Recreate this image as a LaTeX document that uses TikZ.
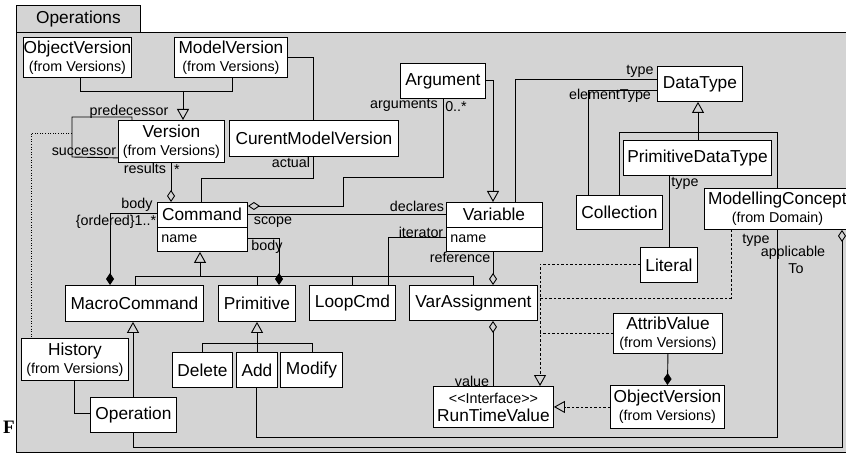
\documentclass[tikz,border=0pt]{standalone}
\usepackage{fontspec}
\setmainfont{Liberation Sans}
\newfontfamily\figserif{Liberation Serif}
\usetikzlibrary{arrows.meta}
\newcommand\clsfont{\fontsize{17.3}{18}\selectfont}
\newcommand\lblfont{\fontsize{14.3}{15}\selectfont}
\definecolor{bg}{gray}{0.83}
\begin{document}
\begin{tikzpicture}[x=1pt,y=-1pt,line width=0.9pt,
  box/.style={draw,fill=white,inner sep=0pt,anchor=north west,align=center,font=\clsfont},
  lbl/.style={font=\lblfont,inner sep=0pt},
  gen/.style={-{Triangle[open,length=11pt,width=12pt]}},
  real/.style={-{Triangle[open,length=11pt,width=12pt]},dash pattern=on 2.5pt off 2pt},
  dsh/.style={dash pattern=on 2.5pt off 2pt},
  comp/.style={-{Diamond[length=12pt,width=8pt]}},
  agg/.style={-{Diamond[open,length=12pt,width=8pt]}},
  aggs/.style={{Diamond[open,length=12pt,width=8pt]}-}]
\useasboundingbox (0,0) rectangle (846,454);
% package
\node[draw,fill=bg,anchor=north west,minimum width=124pt,minimum height=27pt,inner sep=0pt,font=\clsfont] (tab) at (16,5) {Operations};
\node[draw,fill=bg,anchor=north west,minimum width=840pt,minimum height=420pt,inner sep=0pt] (pkg) at (16,32) {};
\node[font=\figserif\fontsize{19}{20}\selectfont\bfseries,inner sep=0pt] (fig) at (9,427) {F};
% classes
\node[box,minimum width=108pt,minimum height=40pt] (ov1) at (23,37) {ObjectVersion\\{\lblfont (from Versions)}};
\node[box,minimum width=113pt,minimum height=40pt] (mv) at (174,37) {ModelVersion\\{\lblfont (from Versions)}};
\node[box,minimum width=106pt,minimum height=42pt] (ver) at (118,120) {Version\\{\lblfont (from Versions)}};
\node[box,minimum width=169pt,minimum height=36pt] (cmv) at (229,120) {CurentModelVersion};
\node[box,minimum width=85pt,minimum height=35pt] (arg) at (400,63) {Argument};
\node[box,minimum width=85pt,minimum height=35pt] (dt) at (657,66) {DataType};
\node[box,minimum width=148pt,minimum height=35pt] (pdt) at (623,140) {PrimitiveDataType};
\node[box,minimum width=86pt,minimum height=34pt] (col) at (576,195) {Collection};
\node[box,minimum width=57pt,minimum height=35pt] (lit) at (640,247) {Literal};
\node[box,minimum width=146pt,minimum height=41pt] (mc) at (704,188) {ModellingConcept\\{\lblfont (from Domain)}};
\node[box,minimum width=90pt,minimum height=49pt] (cmd) at (157,202) {};
\node[box,minimum width=96pt,minimum height=49pt] (var) at (446,202) {};
\node[box,minimum width=138pt,minimum height=36pt] (mac) at (65,285) {MacroCommand};
\node[box,minimum width=77pt,minimum height=36pt] (prim) at (218,285) {Primitive};
\node[box,minimum width=86pt,minimum height=35pt] (loop) at (309,285) {LoopCmd};
\node[box,minimum width=128pt,minimum height=35pt] (va) at (409,285) {VarAssignment};
\node[box,minimum width=60pt,minimum height=35pt] (del) at (172,352) {Delete};
\node[box,minimum width=41pt,minimum height=35pt] (add) at (236,352) {Add};
\node[box,minimum width=62pt,minimum height=35pt] (mod) at (280,352) {Modify};
\node[box,minimum width=107pt,minimum height=42pt] (hist) at (21,338) {History\\{\lblfont (from Versions)}};
\node[box,minimum width=86pt,minimum height=35pt] (op) at (90,397) {Operation};
\node[box,minimum width=120pt,minimum height=41pt] (rtv) at (433,386) {{\lblfont <\kern0pt<Interface>\kern0pt>}\\RunTimeValue};
\node[box,minimum width=109pt,minimum height=40pt] (av) at (613,313) {AttribValue\\{\lblfont (from Versions)}};
\node[box,minimum width=114pt,minimum height=43pt] (ov2) at (610,385) {ObjectVersion\\{\lblfont (from Versions)}};
% compartments
\draw (cmd.west |- 0,227) -- (cmd.east |- 0,227);
\node[font=\clsfont,inner sep=0pt] (cmdT) at (202,214.5) {Command};
\node[lbl,anchor=west] (cmdN) at (161,239) {name};
\draw (var.west |- 0,227) -- (var.east |- 0,227);
\node[font=\clsfont,inner sep=0pt] (varT) at (494,214.5) {Variable};
\node[lbl,anchor=west] (varN) at (450,239) {name};
% Version generalization
\draw (80,0 |- ov1.south) -- (80,91) -- (232,91) -- (232,0 |- mv.south);
\draw[gen] (183,91) -- (183,0 |- ver.north);
\draw (mv.east) -- (313,0 |- mv.east) -- (313,0 |- cmv.north);
% predecessor / successor
\draw ([yshift=5pt]ver.south west) -- (72,157) -- (72,117) -- (132,117) -- (132,0 |- ver.north);
\draw[dash pattern=on 1pt off 1.6pt] (72,133) -- (31,133) -- (31,0 |- hist.north);
\node[lbl] (lpred) at (129,112) {predecessor};
\node[lbl] (lsucc) at (84,152) {successor};
% results
\draw[agg] (171,0 |- ver.south) -- (171,0 |- cmd.north);
\node[lbl] (lres) at (145,168) {results};
\node[lbl] (lresm) at (177,170) {*};
% actual
\draw (201,0 |- cmd.north) -- (201,178) -- (313,178) -- (313,0 |- cmv.south);
\node[lbl] (lact) at (291,162) {actual};
% arguments
\draw[aggs] (cmd.east |- 0,206) -- (343,206) -- (343,177) -- (443,177) -- (443,0 |- arg.south);
\node[lbl] (largs) at (404,105) {arguments};
\node[lbl] (largm) at (456,107) {0..*};
% Argument is a Variable
\draw[gen] (arg.east) -- (493,0 |- arg.east) -- (493,0 |- var.north);
% declares / scope
\draw (cmd.east |- 0,214) -- (var.west |- 0,214);
\node[lbl] (ldecl) at (417,206) {declares};
\node[lbl] (lscope) at (273,222) {scope};
% type / elementType
\draw (515,0 |- var.north) -- (515,79) -- (dt.west |- 0,79);
\node[lbl] (ltype1) at (640,71) {type};
\draw (588,0 |- col.north) -- (588,90) -- (dt.west |- 0,90);
\node[lbl] (lelem) at (610,96) {elementType};
% DataType tree
\draw[gen] (698,0 |- pdt.north) -- (698,0 |- dt.south);
\draw (619,0 |- col.north) -- (619,132) -- (777,132) -- (777,0 |- mc.north);
\draw (669,0 |- pdt.south) -- (669,0 |- lit.north);
\node[lbl] (ltype2) at (685,183) {type};
% realizations of RunTimeValue
\draw[real] (lit.west |- 0,264) -- (540,264) -- (540,0 |- rtv.north);
\draw[dsh] (731,0 |- mc.south) -- (731,298) -- (540,298);
\draw[dsh] (av.west) -- (540,0 |- av.west);
\draw[real] (ov2.west) -- (rtv.east);
\draw[comp] (av.south) -- (ov2.north);
% Command tree
\draw[gen] (200,276) -- (200,0 |- cmd.south);
\draw (135,0 |- mac.north) -- (135,276) -- (473,276) -- (473,0 |- va.north);
\draw (257,276) -- (257,0 |- prim.north);
\draw (352,276) -- (352,0 |- loop.north);
% body
\draw[comp] (cmd.west |- 0,213) -- (110,213) -- (110,0 |- mac.north);
\node[lbl] (lbody1) at (137,205) {body};
\node[lbl] (lord) at (116,222) {\{ordered\}1..*};
\draw[comp] (cmd.east |- 0,238) -- (279,238) -- (279,0 |- prim.north);
\node[lbl] (lbody2) at (267,247) {body};
% iterator, reference, value
\draw (var.west |- 0,237) -- (388,237) -- (388,0 |- loop.north);
\node[lbl] (liter) at (421,232) {iterator};
\draw[agg] (493,0 |- var.south) -- (493,0 |- va.north);
\node[lbl] (lref) at (460,257) {reference};
\draw[aggs] (493,0 |- va.south) -- (493,0 |- rtv.north);
\node[lbl] (lval) at (472,381) {value};
% Primitive tree
\draw[gen] (257,343) -- (257,0 |- prim.south);
\draw (202,0 |- del.north) -- (202,343) -- (312,343) -- (312,0 |- mod.north);
\draw (257,343) -- (257,0 |- add.north);
% Operation
\draw[gen] (133,0 |- op.north) -- (133,0 |- mac.south);
\draw (74,0 |- hist.south) -- (74,413) -- (op.west |- 0,413);
% applicableTo
\draw (256,0 |- add.south) -- (256,437) -- (777,437) -- (777,0 |- mc.south);
\node[lbl] (ltype3) at (756,240) {type};
\node[lbl] (lappl) at (793,253) {applicable};
\node[lbl] (lto) at (796,269) {To};
\draw[aggs] (842,0 |- mc.south) -- (842,447) -- (133,447) -- (133,0 |- op.south);
\end{tikzpicture}
\end{document}
